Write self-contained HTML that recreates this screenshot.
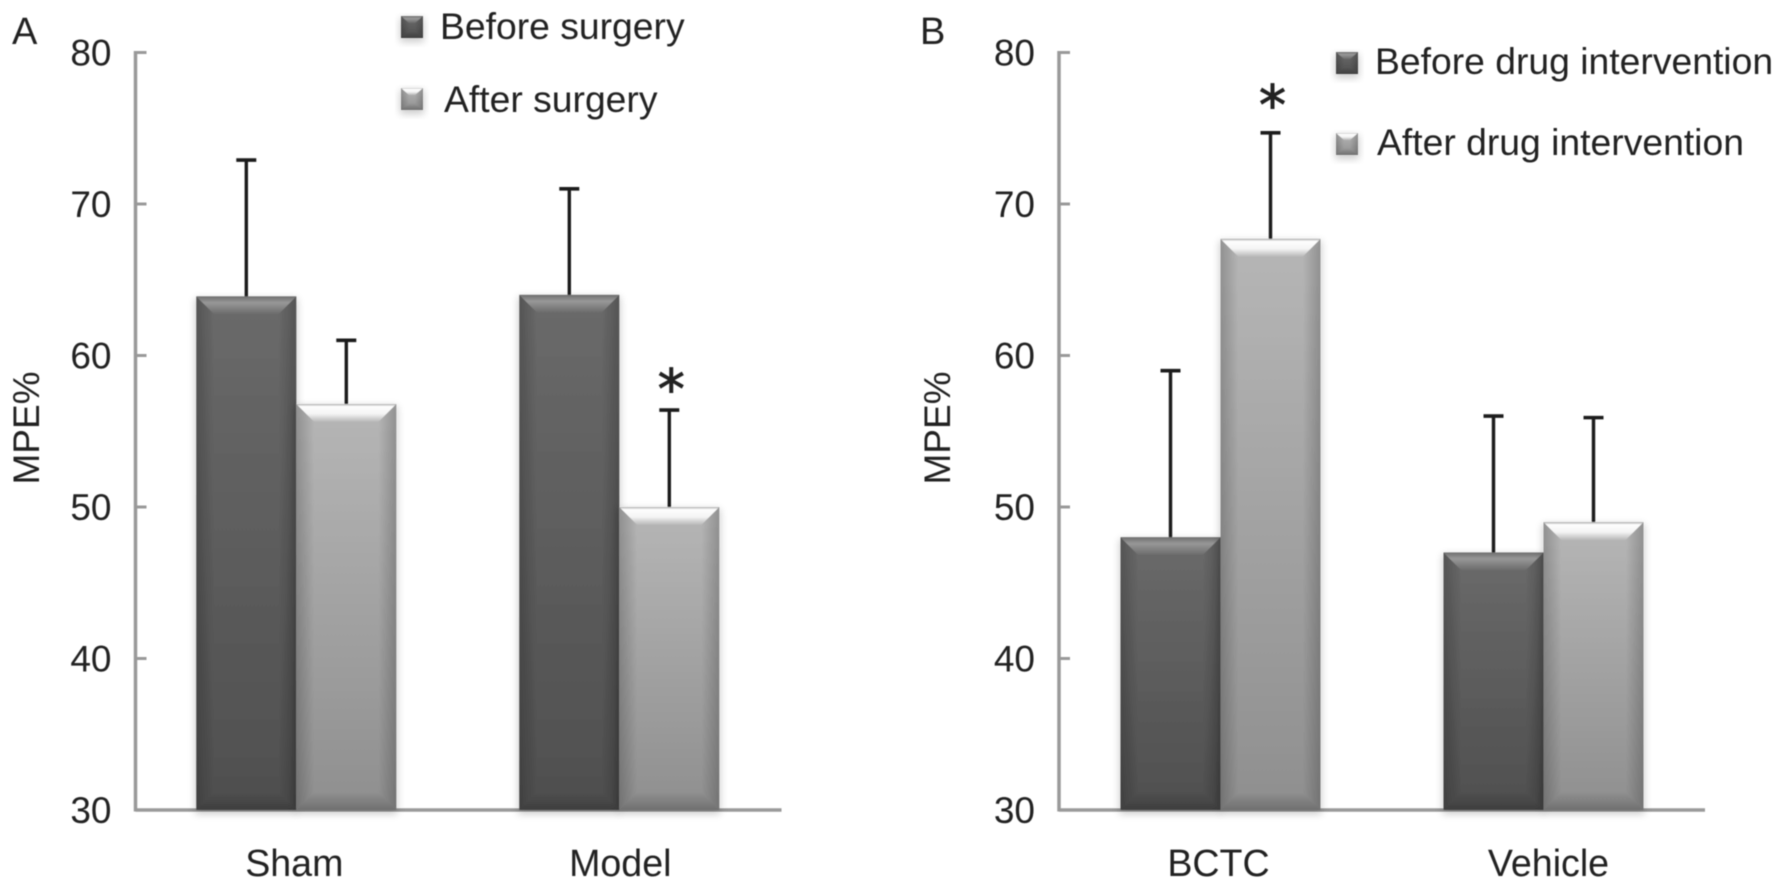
<!DOCTYPE html>
<html lang="en">
<head>
<meta charset="utf-8">
<title>MPE% bar charts</title>
<style>
  html, body { margin: 0; padding: 0; background: #fff; }
  svg { display: block; }
  text { font-family: "Liberation Sans", sans-serif; fill: #222; }
</style>
</head>
<body>
<svg id="figure" xmlns="http://www.w3.org/2000/svg" width="1784" height="888" viewBox="0 0 1784 888">
  <defs>
    <filter id="soft" x="-2%" y="-2%" width="104%" height="104%"><feGaussianBlur stdDeviation="0.6"/></filter>
    <filter id="shadow" x="-20%" y="-20%" width="140%" height="140%"><feGaussianBlur stdDeviation="4"/></filter>
    <linearGradient id="dark-body" x1="0" y1="0" x2="0" y2="1"><stop offset="0" stop-color="#6a6a6a"/><stop offset="1" stop-color="#4f4f4f"/></linearGradient>
    <linearGradient id="light-body" x1="0" y1="0" x2="0" y2="1"><stop offset="0" stop-color="#b6b6b6"/><stop offset="1" stop-color="#8f8f8f"/></linearGradient>
    <linearGradient id="dark-top" x1="0" y1="0" x2="0" y2="1"><stop offset="0" stop-color="#6e6e6e"/><stop offset="0.35" stop-color="#989898"/><stop offset="1" stop-color="#6a6a6a"/></linearGradient>
    <linearGradient id="light-top" x1="0" y1="0" x2="0" y2="1"><stop offset="0" stop-color="#aaaaaa"/><stop offset="0.14" stop-color="#fefefe"/><stop offset="0.55" stop-color="#f4f4f4"/><stop offset="1" stop-color="#b6b6b6"/></linearGradient>
    <linearGradient id="side-left" x1="0" y1="0" x2="1" y2="0"><stop offset="0" stop-color="#000" stop-opacity="0.2"/><stop offset="1" stop-color="#000" stop-opacity="0"/></linearGradient>
    <linearGradient id="side-right" x1="1" y1="0" x2="0" y2="0"><stop offset="0" stop-color="#000" stop-opacity="0.2"/><stop offset="1" stop-color="#000" stop-opacity="0"/></linearGradient>
    <linearGradient id="bottom-edge" x1="0" y1="1" x2="0" y2="0"><stop offset="0" stop-color="#000" stop-opacity="0.22"/><stop offset="1" stop-color="#000" stop-opacity="0"/></linearGradient>
  </defs>

  <g id="scene" filter="url(#soft)">
    <g id="panel-a">
      <text x="12" y="44" font-size="38">A</text>
      <text transform="translate(39,428) rotate(-90)" text-anchor="middle" font-size="37">MPE%</text>
      <g>
        <g id="legend-a-before">
          <text x="440" y="39" font-size="37.3">Before surgery</text>
        </g>
        <g id="legend-a-after">
          <text x="444" y="112" font-size="37.3">After surgery</text>
        </g>
      </g>
    </g>
    <g id="panel-b">
      <text x="920" y="44" font-size="38">B</text>
      <text transform="translate(950,428) rotate(-90)" text-anchor="middle" font-size="37">MPE%</text>
      <g>
        <g id="legend-b-before">
          <text x="1375" y="74" font-size="37.3">Before drug intervention</text>
        </g>
        <g id="legend-b-after">
          <text x="1377" y="155" font-size="37.3">After drug intervention</text>
        </g>
      </g>
    </g>
  </g>
</svg>

<script>
// Shared axis data
const yTicks = [30, 40, 50, 60, 70, 80];

// Panel A data
const aCategories = ["Sham", "Model"];
const aBefore = [63.9, 64.0];
const aAfter = [56.8, 50.0];
const aBeforeError = [72.9, 71.0];
const aAfterError = [61.0, 56.4];
const aBeforeStar = [false, false];
const aAfterStar = [false, true];

// Panel B data
const bCategories = ["BCTC", "Vehicle"];
const bBefore = [48.0, 47.0];
const bAfter = [67.7, 49.0];
const bBeforeError = [59.0, 56.0];
const bAfterError = [74.7, 55.9];
const bBeforeStar = [false, false];
const bAfterStar = [true, false];

const NS = "http://www.w3.org/2000/svg";

function make(tag, attrs, parent) {
  const el = document.createElementNS(NS, tag);
  for (const key in attrs) el.setAttribute(key, attrs[key]);
  parent.appendChild(el);
  return el;
}

function bevelBar(parent, x, y, w, h, tone, bevelW, bevelH) {
  const shadow = make("rect", { x: x - 1, y: y + 2, width: w + 2, height: h + 2, fill: "#000", opacity: 0.2, filter: "url(#shadow)" }, parent);
  
  
  const body = make("rect", { x: x, y: y, width: w, height: h, fill: "url(#" + tone + "-body)" }, parent);
  
  
  const right = x + w;
  const bottom = y + h;
  const left = make("polygon", { points: [x, y, x + bevelW, y + bevelH, x + bevelW, bottom - bevelH, x, bottom].join(" "), fill: "url(#side-left)" }, parent);
  
  
  const rightSide = make("polygon", { points: [right, y, right - bevelW, y + bevelH, right - bevelW, bottom - bevelH, right, bottom].join(" "), fill: "url(#side-right)" }, parent);
  
  
  const lower = make("polygon", { points: [x, bottom, x + bevelW, bottom - bevelH, right - bevelW, bottom - bevelH, right, bottom].join(" "), fill: "url(#bottom-edge)" }, parent);
  
  
  const upper = make("polygon", { points: [x, y, right, y, right - bevelW, y + bevelH, x + bevelW, y + bevelH].join(" "), fill: "url(#" + tone + "-top)" }, parent);
  
  
}

function drawPanel(panelId, x0, bandShift, starGap, labelShift, categories, before, after, beforeErr, afterErr, beforeStar, afterStar) {
  const panel = document.getElementById(panelId);
  const yTop = 52.5;
  const yBottom = 810;
  const bandWidth = 323;
  const barWidth = 100;
  const yScale = function (v) { return yBottom - (v - 30) / 50 * (yBottom - yTop); };
  const xBand = function (i) { return x0 + bandShift + bandWidth * (i + 0.5); };

  const tickGroup = make("g", {}, panel);
  
  
  yTicks.forEach(function (t) {
    const mark = make("line", { x1: x0, x2: x0 + 11, y1: yScale(t), y2: yScale(t), stroke: "#999", "stroke-width": 3 }, tickGroup);
    
    
    const label = make("text", { x: x0 - 24, y: yScale(t) + 13, "text-anchor": "end", "font-size": 37 }, tickGroup);
    
    
    label.textContent = t;
  });

  const axisY = make("line", { x1: x0, x2: x0, y1: yTop - 1.5, y2: yBottom + 1.5, stroke: "#999", "stroke-width": 3.5 }, panel);
  
  
  const axisX = make("line", { x1: x0, x2: x0 + bandWidth * categories.length, y1: yBottom, y2: yBottom, stroke: "#999", "stroke-width": 3.5 }, panel);
  
  

  categories.forEach(function (name, i) {
    const cx = xBand(i);
    const seriesList = [
      { value: before[i], err: beforeErr[i], star: beforeStar[i], tone: "dark", x: cx - barWidth, key: "before" },
      { value: after[i], err: afterErr[i], star: afterStar[i], tone: "light", x: cx, key: "after" }
    ];
    seriesList.forEach(function (s) {
      const top = yScale(s.value);
      const errTop = yScale(s.err);
      const mid = s.x + barWidth / 2;
      const errGroup = make("g", {}, panel);
      
      
      make("line", { x1: mid, x2: mid, y1: errTop, y2: top + 1, stroke: "#1c1c1c", "stroke-width": 3.4 }, errGroup);
      make("line", { x1: mid - 10, x2: mid + 10, y1: errTop, y2: errTop, stroke: "#1c1c1c", "stroke-width": 3.6 }, errGroup);
      const barGroup = make("g", {}, panel);
      
      
      bevelBar(barGroup, s.x, top, barWidth, yBottom - top, s.tone, 18, 18);
      if (s.star) {
        const star = make("text", { x: mid + 2, y: errTop - starGap, "text-anchor": "middle", "font-size": 54, stroke: "#222", "stroke-width": 1 }, panel);
        star.style.fontFamily = '"DejaVu Sans", sans-serif';
        
        
        star.textContent = "*";
      }
    });
    const label = make("text", { x: cx + labelShift * i - 2, y: 876, "text-anchor": "middle", "font-size": 37.6 }, panel);
    
    
    label.textContent = name;
  });
}

drawPanel("panel-a", 135.5, -0.7, 2, 3, aCategories, aBefore, aAfter, aBeforeError, aAfterError, aBeforeStar, aAfterStar);
drawPanel("panel-b", 1059, 0, 9, 7, bCategories, bBefore, bAfter, bBeforeError, bAfterError, bBeforeStar, bAfterStar);

bevelBar(document.getElementById("legend-a-before"), 401, 16, 22, 22, "dark", 8, 7);
bevelBar(document.getElementById("legend-a-after"), 401, 88, 22, 22, "light", 8, 7);
bevelBar(document.getElementById("legend-b-before"), 1336, 52, 22, 22, "dark", 8, 7);
bevelBar(document.getElementById("legend-b-after"), 1336, 133, 22, 22, "light", 8, 7);
</script>
</body>
</html>
